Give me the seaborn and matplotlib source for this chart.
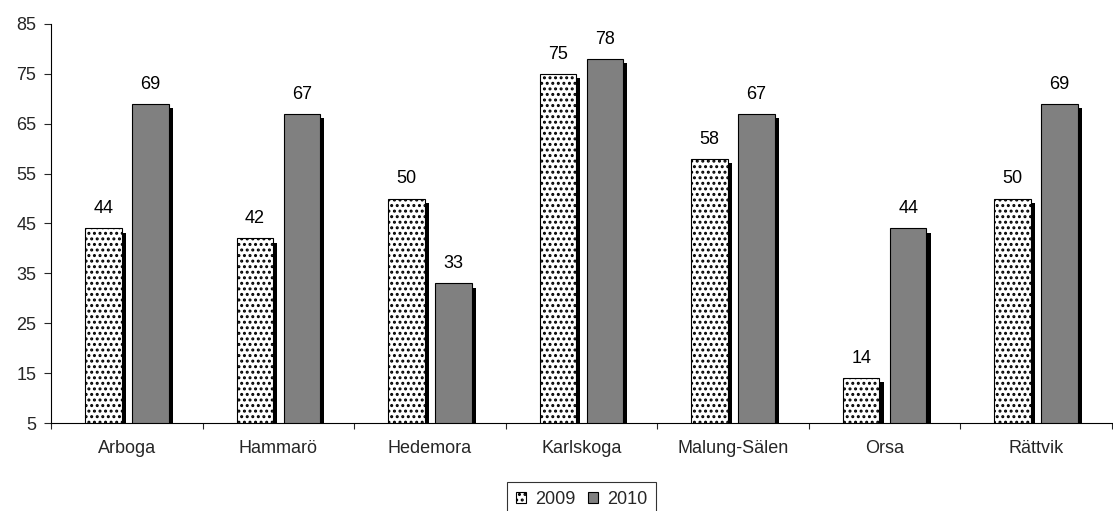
import matplotlib
matplotlib.use("Agg")
import matplotlib.pyplot as plt
import matplotlib.patheffects as pe
import seaborn as sns
import pandas as pd
import numpy as np

categories = ["Arboga", "Hammarö", "Hedemora", "Karlskoga", "Malung-Sälen", "Orsa", "Rättvik"]
values_2009 = [44, 42, 50, 75, 58, 14, 50]
values_2010 = [69, 67, 33, 78, 67, 44, 69]
series = ["2009", "2010"]

df = pd.DataFrame({
    "Kommun": categories * 2,
    "År": [series[0]] * len(categories) + [series[1]] * len(categories),
    "Värde": values_2009 + values_2010,
})

sns.set_theme(style="white")
plt.rcParams["font.family"] = ["Liberation Sans", "DejaVu Sans"]
plt.rcParams["hatch.linewidth"] = 1.4

FS = 13
fig = plt.figure(figsize=(11.13, 5.11), dpi=100)
ax = fig.add_axes([51 / 1113, 88 / 511, (1112 - 51) / 1113, (423 - 24) / 511])

sns.barplot(data=df, x="Kommun", y="Värde", hue="År", order=categories,
            hue_order=series, palette=["white", "#808080"], ax=ax,
            width=0.62, gap=0.22, edgecolor="black", linewidth=0.8,
            legend=True)

shadow = [pe.SimplePatchShadow(offset=(3, -3), shadow_rgbFace="black", alpha=1.0), pe.Normal()]
n = len(categories)
for i, bar in enumerate(ax.patches[:2 * n]):
    bar.set_path_effects(shadow)
    if i < n:
        bar.set_hatch("...")

for container, vals in zip(ax.containers, [values_2009, values_2010]):
    ax.bar_label(container, labels=[str(v) for v in vals], padding=8, fontsize=FS, color="black")

ax.set_ylim(5, 85)
ax.set_yticks(np.arange(5, 86, 10))
ax.set_xlim(-0.5, n - 0.5)
ax.set_xticks(range(n))
ax.set_xticklabels(categories, fontsize=FS)
ax.set_xticks(np.arange(-0.5, n, 1.0), minor=True)
ax.tick_params(axis="x", which="major", length=0, pad=12)
ax.tick_params(axis="x", which="minor", length=4.5, width=0.8, direction="out", bottom=True)
ax.tick_params(axis="y", length=5, width=0.8, direction="out", left=True, labelsize=FS, pad=5.5)
ax.set_xlabel("")
ax.set_ylabel("")
for side in ["top", "right"]:
    ax.spines[side].set_visible(False)
for side in ["left", "bottom"]:
    ax.spines[side].set_color("black")
    ax.spines[side].set_linewidth(0.8)

leg = ax.legend(loc="upper center", bbox_to_anchor=(0.5, (423 - 482) / 399), ncol=2, frameon=True,
                fontsize=FS, handlelength=0.55, handleheight=0.55, handletextpad=0.5,
                columnspacing=0.7, borderpad=0.5, fancybox=False, borderaxespad=0)
leg.get_frame().set_edgecolor("black")
leg.get_frame().set_linewidth(0.8)
for h in leg.legend_handles:
    h.set_edgecolor("black")
    h.set_path_effects([])
leg.legend_handles[0].set_hatch("...")

fig.savefig("out.png", dpi=100)
